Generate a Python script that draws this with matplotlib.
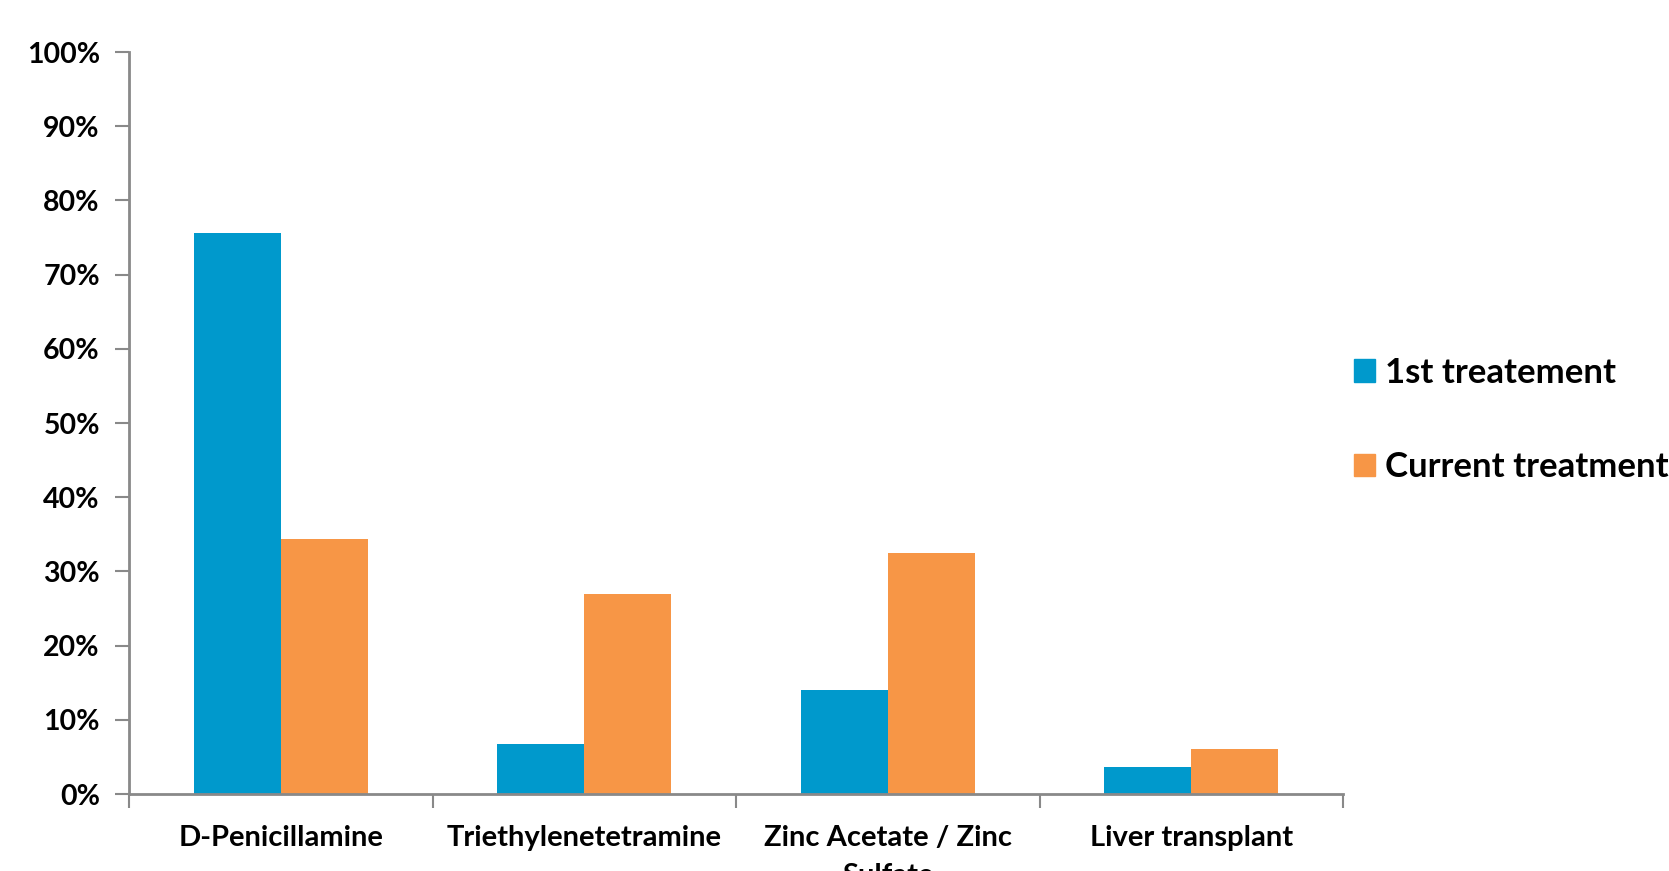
import matplotlib
matplotlib.use("Agg")
import matplotlib.pyplot as plt
import numpy as np
from matplotlib.patches import Patch
from matplotlib.ticker import FuncFormatter

# treatment share per drug (fraction of patients)
categories = ["D-Penicillamine", "Triethylenetetramine", "Zinc Acetate / Zinc\nSulfate", "Liver transplant"]
first_treatment = [0.756, 0.068, 0.140, 0.036]
current_treatment = [0.344, 0.269, 0.325, 0.061]
series_names = ["1st treatement", "Current treatment"]

blue = "#0099CC"
orange = "#F79646"
axis_grey = "#898989"

plt.rcParams["font.family"] = ["Lato", "DejaVu Sans"]
plt.rcParams["font.weight"] = "bold"

fig = plt.figure(figsize=(16.69, 8.71), dpi=100)
ax = fig.add_axes([129 / 1669, 1 - 794 / 871, (1343 - 129) / 1669, (794 - 52) / 871])

x = np.arange(len(categories))
w = 0.287
ax.bar(x - w / 2, first_treatment, w, color=blue)
ax.bar(x + w / 2, current_treatment, w, color=orange)

ax.set_xlim(-0.5, len(categories) - 0.5)
ax.set_ylim(0, 1)
ax.set_yticks(np.arange(0, 1.01, 0.1))
ax.yaxis.set_major_formatter(FuncFormatter(lambda v, p: f"{v * 100:.0f}%"))

ax.set_xticks(x)
ax.set_xticklabels(categories, fontsize=21, fontweight="bold", va="top", linespacing=1.6)
ax.set_xticks(np.arange(-0.5, len(categories), 1), minor=True)
ax.tick_params(axis="x", which="major", length=0, pad=22)
ax.tick_params(axis="x", which="minor", length=10, width=1.5, color=axis_grey)
ax.tick_params(axis="y", length=10, width=1.5, color=axis_grey, pad=11, labelsize=20.5)
for lab in ax.get_yticklabels():
    lab.set_fontweight("bold")

for side in ["top", "right"]:
    ax.spines[side].set_visible(False)
for side in ["left", "bottom"]:
    ax.spines[side].set_color(axis_grey)
    ax.spines[side].set_linewidth(2)

handles = [Patch(color=blue), Patch(color=orange)]
leg = fig.legend(handles, series_names, loc="center left", bbox_to_anchor=(1354 / 1669, 1 - 420 / 871),
                 frameon=False, fontsize=25, handlelength=0.6, handleheight=0.6,
                 handletextpad=0.3, labelspacing=1.8, borderaxespad=0, borderpad=0)
for t in leg.get_texts():
    t.set_fontweight("bold")

fig.savefig("out.png", dpi=100)
